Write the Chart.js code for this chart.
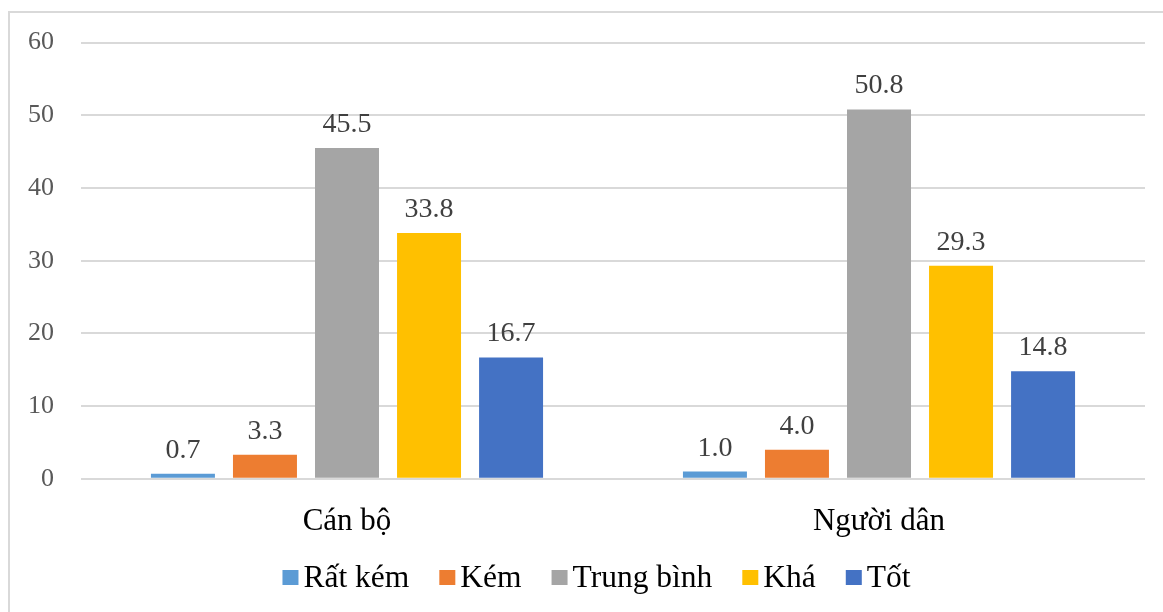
<!DOCTYPE html>
<html>
<head>
<meta charset="utf-8">
<script src="https://cdn.jsdelivr.net/npm/chart.js@4.4.1/dist/chart.umd.min.js"></script>
<style>
  html, body { margin: 0; padding: 0; background: #fff; }
  #wrap { position: relative; width: 1163px; height: 612px; }
</style>
</head>
<body>
<div id="wrap"><canvas id="chart" width="1163" height="612"></canvas></div>
<script>
// Groups on the x axis
const categories = ['Cán bộ', 'Người dân'];

// Rating levels (one series each)
const seriesNames = ['Rất kém', 'Kém', 'Trung bình', 'Khá', 'Tốt'];
const ratVeryPoor = [0.7, 1.0];
const ratPoor     = [3.3, 4.0];
const ratAverage  = [45.5, 50.8];
const ratGood     = [33.8, 29.3];
const ratExcellent = [16.7, 14.8];

// Value axis ticks
const yTicks = [0, 10, 20, 30, 40, 50, 60];

const seriesColors = ['#5B9BD5', '#ED7D31', '#A5A5A5', '#FFC000', '#4472C4'];
const seriesValues = [ratVeryPoor, ratPoor, ratAverage, ratGood, ratExcellent];

const SERIF = '"Liberation Serif", "Times New Roman", serif';

// White background and the frame lines on the top and left edges
const framePlugin = {
  id: 'frame',
  beforeDraw(chart) {
    const ctx = chart.ctx;
    ctx.save();
    ctx.fillStyle = '#ffffff';
    ctx.fillRect(0, 0, chart.width, chart.height);
    ctx.strokeStyle = '#d9d9d9';
    ctx.lineWidth = 2;
    ctx.beginPath();
    ctx.moveTo(9, chart.height);
    ctx.lineTo(9, 12);
    ctx.lineTo(chart.width, 12);
    ctx.stroke();
    ctx.restore();
  }
};

// Value labels above every bar
const valueLabelPlugin = {
  id: 'valueLabels',
  afterDatasetsDraw(chart) {
    const ctx = chart.ctx;
    ctx.save();
    ctx.font = '28px ' + SERIF;
    ctx.fillStyle = '#404040';
    ctx.textAlign = 'center';
    ctx.textBaseline = 'alphabetic';
    chart.data.datasets.forEach((ds, i) => {
      const meta = chart.getDatasetMeta(i);
      meta.data.forEach((bar, j) => {
        ctx.fillText(ds.data[j].toFixed(1), bar.x, bar.y - 16);
      });
    });
    ctx.restore();
  }
};

// Legend row below the category labels
const legendPlugin = {
  id: 'bottomLegend',
  afterDraw(chart) {
    const ctx = chart.ctx;
    ctx.save();
    ctx.font = '31.5px ' + SERIF;
    ctx.textBaseline = 'alphabetic';
    const box = 16, gapText = 5, gapItem = 30;
    const items = chart.data.datasets.map(ds => ({
      label: ds.label, color: ds.backgroundColor, w: ctx.measureText(ds.label).width
    }));
    let total = 0;
    items.forEach((it, i) => { total += box + gapText + it.w + (i < items.length - 1 ? gapItem : 0); });
    let x = chart.width / 2 + 15 - total / 2;
    const baseline = 587;
    items.forEach(it => {
      ctx.fillStyle = it.color;
      ctx.fillRect(x, 570, box, 15);
      x += box + gapText;
      ctx.fillStyle = '#000000';
      ctx.textAlign = 'left';
      ctx.fillText(it.label, x, baseline);
      x += it.w + gapItem;
    });
    ctx.restore();
  }
};

new Chart(document.getElementById('chart'), {
  type: 'bar',
  data: {
    labels: categories,
    datasets: seriesNames.map((name, i) => ({
      label: name,
      data: seriesValues[i],
      backgroundColor: seriesColors[i],
      borderWidth: 0,
      categoryPercentage: 0.771,
      barPercentage: 0.78
    }))
  },
  options: {
    responsive: false,
    animation: false,
    devicePixelRatio: 1,
    layout: { padding: { top: 42, right: 18, bottom: 48, left: 0 } },
    plugins: {
      legend: { display: false },
      tooltip: { enabled: false }
    },
    scales: {
      x: {
        grid: { display: false, drawTicks: false },
        border: { display: false },
        ticks: {
          padding: 24,
          color: '#000000',
          font: { family: SERIF, size: 31 }
        }
      },
      y: {
        min: 0,
        max: 60,
        afterFit(scale) { scale.width = 81; },
        afterBuildTicks(scale) { scale.ticks = yTicks.map(v => ({ value: v })); },
        grid: { color: '#d9d9d9', lineWidth: 2, drawTicks: false },
        border: { display: false },
        ticks: {
          padding: 27,
          color: '#595959',
          font: { family: SERIF, size: 26 }
        }
      }
    }
  },
  plugins: [framePlugin, valueLabelPlugin, legendPlugin]
});
</script>
</body>
</html>
